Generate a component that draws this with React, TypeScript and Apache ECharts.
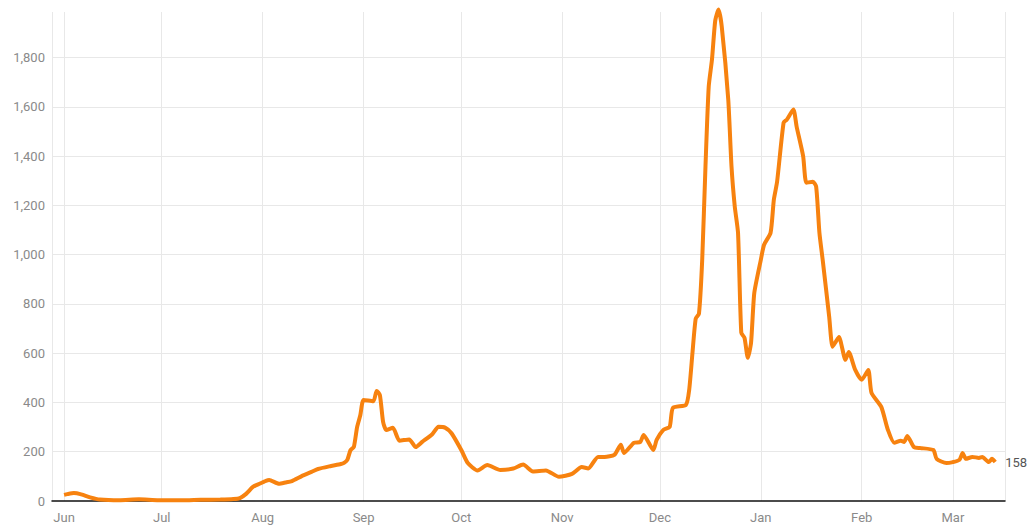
import React, { useEffect, useRef } from "react";
import * as echarts from "echarts";

const dates: string[] = [
  "2020-06-01", "2020-06-02", "2020-06-04", "2020-06-06", "2020-06-09", "2020-06-12", "2020-06-18", "2020-06-24", "2020-06-30",
  "2020-07-07", "2020-07-13", "2020-07-19", "2020-07-23", "2020-07-25", "2020-07-27", "2020-07-29", "2020-07-31",
  "2020-08-02", "2020-08-03", "2020-08-06", "2020-08-08", "2020-08-10", "2020-08-13", "2020-08-16", "2020-08-18",
  "2020-08-22", "2020-08-25", "2020-08-26", "2020-08-27", "2020-08-28", "2020-08-29", "2020-08-30", "2020-08-31",
  "2020-09-01", "2020-09-04", "2020-09-05", "2020-09-06", "2020-09-07", "2020-09-08", "2020-09-10", "2020-09-12",
  "2020-09-15", "2020-09-17", "2020-09-19", "2020-09-22", "2020-09-24", "2020-09-26", "2020-09-28",
  "2020-10-01", "2020-10-03", "2020-10-06", "2020-10-09", "2020-10-13", "2020-10-17", "2020-10-20", "2020-10-23",
  "2020-10-27", "2020-10-31",
  "2020-11-04", "2020-11-07", "2020-11-09", "2020-11-12", "2020-11-14", "2020-11-17", "2020-11-19", "2020-11-20",
  "2020-11-23", "2020-11-25", "2020-11-26", "2020-11-29", "2020-11-30",
  "2020-12-02", "2020-12-04", "2020-12-05", "2020-12-09", "2020-12-10", "2020-12-11", "2020-12-12", "2020-12-13",
  "2020-12-14", "2020-12-15", "2020-12-16", "2020-12-17", "2020-12-18", "2020-12-19", "2020-12-20", "2020-12-22",
  "2020-12-23", "2020-12-24", "2020-12-25", "2020-12-26", "2020-12-27", "2020-12-28", "2020-12-29", "2020-12-30",
  "2021-01-01", "2021-01-02", "2021-01-04", "2021-01-05", "2021-01-06", "2021-01-08", "2021-01-09", "2021-01-11",
  "2021-01-12", "2021-01-14", "2021-01-15", "2021-01-17", "2021-01-18", "2021-01-19", "2021-01-20", "2021-01-22",
  "2021-01-23", "2021-01-24", "2021-01-25", "2021-01-27", "2021-01-28", "2021-01-30",
  "2021-02-01", "2021-02-03", "2021-02-04", "2021-02-07", "2021-02-09", "2021-02-11", "2021-02-13", "2021-02-14",
  "2021-02-15", "2021-02-17", "2021-02-19", "2021-02-23", "2021-02-24", "2021-02-27",
  "2021-03-01", "2021-03-03", "2021-03-04", "2021-03-05", "2021-03-07", "2021-03-09", "2021-03-10", "2021-03-12",
  "2021-03-13", "2021-03-14",
];

const values: number[] = [
  25, 28, 32, 28, 15, 6, 3, 7, 3,
  3, 5, 6, 8, 12, 30, 57, 70,
  82, 85, 70, 75, 81, 101, 118, 130,
  142, 150, 155, 167, 207, 219, 300, 349,
  410, 405, 447, 430, 320, 288, 297, 245,
  250, 219, 240, 270, 301, 298, 275,
  207, 154, 124, 146, 126, 132, 148, 120,
  124, 98,
  110, 138, 132, 179, 179, 187, 228, 195,
  236, 240, 268, 207, 248,
  288, 301, 378, 390, 451, 600, 740, 760,
  980, 1357, 1682, 1792, 1950, 1995, 1926, 1629,
  1357, 1195, 1089, 683, 662, 581, 642, 845,
  979, 1040, 1089, 1223, 1296, 1536, 1548, 1589,
  1520, 1400, 1292, 1296, 1276, 1089, 979, 748,
  626, 646, 666, 573, 605, 532,
  492, 532, 439, 382, 290, 236, 245, 240,
  264, 219, 215, 207, 171, 154,
  158, 167, 195, 171, 179, 175, 179, 158,
  171, 158,
];

const monthNames: string[] = ["Jan", "Feb", "Mar", "Apr", "May", "Jun", "Jul", "Aug", "Sep", "Oct", "Nov", "Dec"];

export default function App() {
  const ref = useRef<HTMLDivElement>(null);
  useEffect(() => {
    document.body.style.margin = "0";
    const chart = echarts.init(ref.current!, null, { renderer: "svg" });
    const day = 86400000;
    chart.setOption({
      animation: false,
      backgroundColor: "#ffffff",
      grid: { left: 52, right: 27, top: 12, bottom: 28, containLabel: false },
      xAxis: {
        type: "time",
        min: new Date(2020, 4, 28, 7).getTime(),
        max: new Date(2021, 2, 17).getTime(),
        splitNumber: 10,
        minInterval: 28 * day,
        maxInterval: 31 * day,
        axisLine: { show: true, lineStyle: { color: "#111111", width: 1.5 } },
        axisTick: { show: false },
        axisLabel: {
          color: "#8a8a8a",
          fontFamily: "Roboto",
          fontSize: 13,
          margin: 10,
          formatter: (v: number) => monthNames[new Date(v).getMonth()],
        },
        splitLine: { show: true, lineStyle: { color: "#e8e8e8", width: 1 } },
      },
      yAxis: {
        type: "value",
        min: 0,
        max: 1985,
        interval: 200,
        axisLine: { show: false },
        axisTick: { show: false },
        axisLabel: {
          color: "#8a8a8a",
          fontFamily: "Roboto",
          fontSize: 13,
          margin: 7,
          showMaxLabel: false,
        },
        splitLine: { show: true, showMaxLine: false, showMinLine: false, lineStyle: { color: "#e8e8e8", width: 1 } },
      },
      series: [
        {
          type: "line",
          data: dates.map((d, i) => [d, values[i]]),
          showSymbol: false,
          smooth: 0.2,
          clip: false,
          lineStyle: { color: "#f7820f", width: 4 },
          itemStyle: { color: "#f7820f" },
          endLabel: {
            show: true,
            formatter: (p: any) => String(p.value[1]),
            color: "#555555",
            fontFamily: "Roboto",
            fontSize: 13,
            distance: 10,
          },
        },
      ],
    });
    return () => chart.dispose();
  }, []);
  return <div ref={ref} style={{ width: 1032, height: 529 }} />;
}
